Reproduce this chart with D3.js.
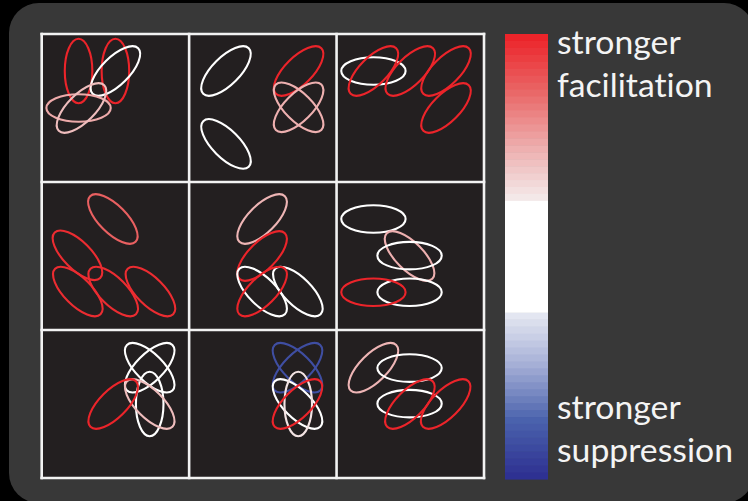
<!DOCTYPE html>
<html>
<head>
<meta charset="utf-8">
<script src="https://cdn.jsdelivr.net/npm/d3@7"></script>
<style>
  html, body { margin: 0; padding: 0; background: #000; }
  svg { display: block; }
  text { font-variant-ligatures: none; font-feature-settings: "liga" 0, "clig" 0; }
</style>
</head>
<body>
<svg id="chart" width="748" height="501"></svg>
<script>
// Each ellipse: [gridX, gridY, orientation (deg, counter-clockwise), modulation value]
// gridX / gridY are quarter-panel positions (1..3); value in [-1, 1]
const panelTopLeft = [
  [1, 1, 90, 1.0], [2, 1, 90, 1.0], [2, 1, 45, 0.0],
  [1, 2, 0, 0.52], [1.08, 2, 45, 0.45]
];
const panelTopMid = [
  [1, 1, 45, 0.0], [1, 2.97, 135, 0.0], [2.97, 1, 45, 1.0],
  [2.97, 1.98, 45, 0.5], [2.97, 1.98, 135, 0.5]
];
const panelTopRight = [
  [1, 1, 0, 0.0], [1, 1, 45, 1.0], [2, 1, 45, 1.0],
  [2.97, 1, 45, 1.0], [2.97, 2, 45, 1.0]
];
const panelMidLeft = [
  [1.93, 1, 135, 0.78], [0.97, 1.98, 135, 0.97], [0.98, 2.96, 135, 0.97],
  [1.94, 2.96, 135, 0.97], [2.95, 2.96, 135, 0.97]
];
const panelCenter = [
  [1.98, 1, 45, 0.48], [1.98, 2, 45, 1.0], [1.98, 2.96, 135, 0.0],
  [2.95, 2.96, 135, 0.0], [1.98, 2.96, 45, 1.0]
];
const panelMidRight = [
  [1, 1, 0, 0.0], [1.98, 2, 135, 0.5], [1.98, 1.99, 0, 0.0],
  [1.98, 2.98, 0, 0.0], [1, 2.98, 0, 1.0]
];
const panelBottomLeft = [
  [2.93, 1.02, 45, 0.0], [2.93, 1.02, 135, 0.0], [2.93, 2, 90, 0.0],
  [2.93, 2, 135, 0.45], [1.94, 2, 45, 1.0]
];
const panelBottomMid = [
  [2.94, 1.02, 45, -0.85], [2.94, 1.02, 135, -0.85], [2.94, 2, 135, 0.0],
  [2.96, 2, 90, 0.3], [2.94, 2, 45, 1.0]
];
const panelBottomRight = [
  [1, 1.02, 45, 0.48], [1.98, 1.03, 0, 0.0], [1.98, 1.99, 0, 0.0],
  [1.99, 2, 45, 1.0], [2.96, 2, 45, 1.0]
];
const panelList = [
  panelTopLeft, panelTopMid, panelTopRight,
  panelMidLeft, panelCenter, panelMidRight,
  panelBottomLeft, panelBottomMid, panelBottomRight
];
const legendTop = ["stronger", "facilitation"];
const legendBottom = ["stronger", "suppression"];
const whiteBand = 0.25;   // |value| below this is drawn white

const svg = d3.select("#chart");

// Rounded backdrop
svg.append("rect")
  .attr("x", 9).attr("y", 3)
  .attr("width", 745).attr("height", 500)
  .attr("rx", 30).attr("ry", 30)
  .attr("fill", "#383838");

// Colour mapping: white dead band, ramps to red / blue
const redRamp = d3.piecewise(d3.interpolateRgb, ["#f4f0f0", "#eeb0b0", "#e96868", "#ec242a"]);
const blueRamp = d3.piecewise(d3.interpolateRgb, ["#eceef5", "#a5afd6", "#4a62ad", "#2e3192"]);
const rampT = d3.scaleLinear().domain([whiteBand, 1]).range([0, 1]).clamp(true);
function colorFor(v) {
  if (Math.abs(v) < whiteBand) return "#ffffff";
  return v > 0 ? redRamp(rampT(v)) : blueRamp(rampT(-v));
}

// Panel grid
const gridX = d3.scaleLinear().domain([0, 3]).range([41.7, 484]);
const gridY = d3.scaleLinear().domain([0, 3]).range([34, 478]);

const panels = svg.append("g").attr("class", "panels");
panelList.forEach((items, i) => {
  const col = i % 3, row = Math.floor(i / 3);
  const x = d3.scaleLinear().domain([0, 4]).range([gridX(col), gridX(col + 1)]);
  const y = d3.scaleLinear().domain([0, 4]).range([gridY(row), gridY(row + 1)]);
  const g = panels.append("g");
  g.append("rect")
    .attr("x", x(0)).attr("y", y(0))
    .attr("width", x(4) - x(0)).attr("height", y(4) - y(0))
    .attr("fill", "#231f20");
  const rx = (x(1) - x(0)) * 0.873;
  const ry = (x(1) - x(0)) * 0.374;
  g.selectAll("ellipse")
    .data(items)
    .join("ellipse")
    .attr("cx", 0).attr("cy", 0)
    .attr("rx", rx).attr("ry", ry)
    .attr("transform", d => `translate(${x(d[0])},${y(d[1])}) rotate(${-d[2]})`)
    .attr("fill", "none")
    .attr("stroke", d => colorFor(d[3]))
    .attr("stroke-width", 2.1);
});

// White separators
const lines = svg.append("g").attr("stroke", "#f2f2f2").attr("stroke-width", 2.6);
d3.range(4).forEach(k => {
  lines.append("line")
    .attr("x1", gridX(k)).attr("x2", gridX(k))
    .attr("y1", gridY(0) - 1.3).attr("y2", gridY(3) + 1.3);
  lines.append("line")
    .attr("y1", gridY(k)).attr("y2", gridY(k))
    .attr("x1", gridX(0) - 1.3).attr("x2", gridX(3) + 1.3);
});

// Colour bar
const barY = d3.scaleLinear().domain([1, -1]).range([34, 479]);
const barX0 = 505, barW = 43;
const steps = 24;
const bar = svg.append("g");
const bands = [];
d3.range(steps).forEach(k => {
  const hi = 1 - (1 - whiteBand) * k / steps;
  const lo = 1 - (1 - whiteBand) * (k + 1) / steps;
  bands.push({ hi, lo, v: hi });
  bands.push({ hi: -lo, lo: -hi, v: -hi });
});
bands.push({ hi: whiteBand, lo: -whiteBand, v: 0 });
bar.selectAll("rect")
  .data(bands)
  .join("rect")
  .attr("x", barX0).attr("width", barW)
  .attr("y", d => barY(d.hi))
  .attr("height", d => barY(d.lo) - barY(d.hi) + 0.6)
  .attr("fill", d => colorFor(d.v));

// Legend text
const label = svg.append("g")
  .attr("font-family", "Lato, 'Open Sans', sans-serif")
  .attr("fill", "#f4f4f4");
const texts = [
  { t: legendTop[0], y: 53.5 },
  { t: legendTop[1], y: 97 },
  { t: legendBottom[0], y: 418.5 },
  { t: legendBottom[1], y: 462 }
];
const tsel = label.selectAll("text")
  .data(texts)
  .join("text")
  .attr("x", 557)
  .attr("y", d => d.y)
  .attr("font-size", 32)
  .text(d => d.t);
// Size the type so the widest word spans its column
const probe = tsel.filter(d => d.t === legendBottom[1]).node();
const w = probe.getComputedTextLength();
tsel.attr("font-size", 32 * 176 / w);
</script>
</body>
</html>
